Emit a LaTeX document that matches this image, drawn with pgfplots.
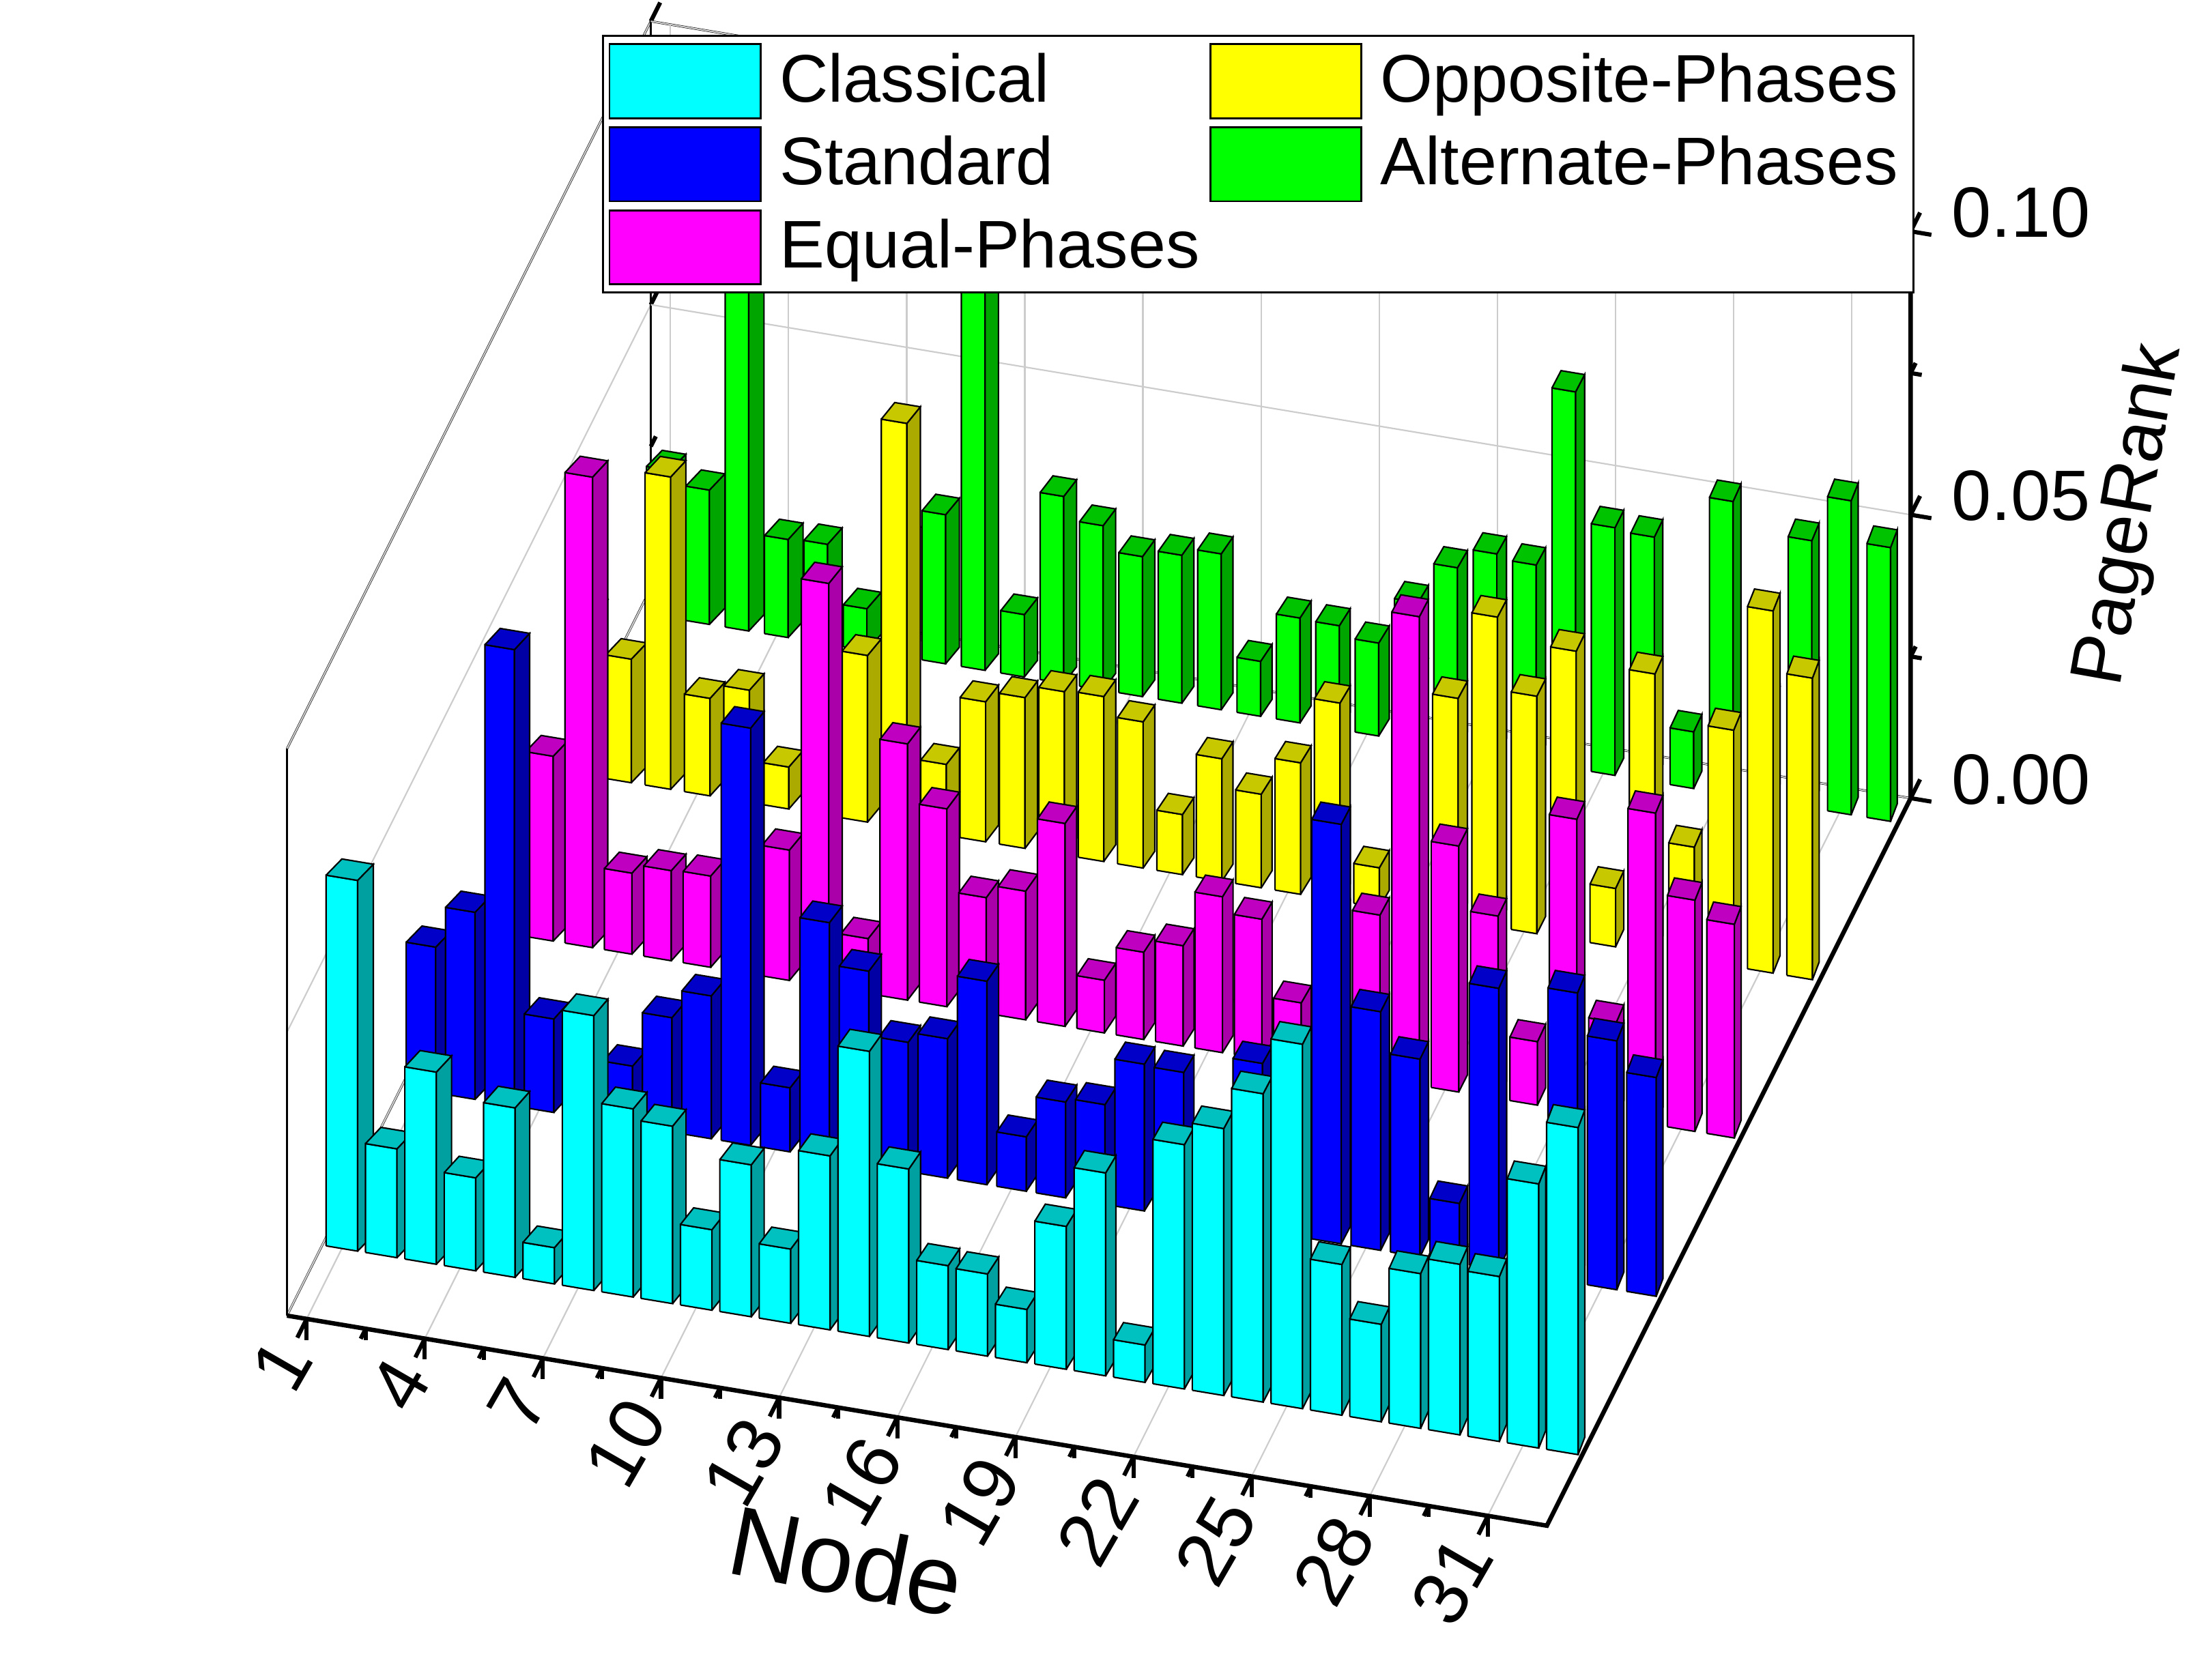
\documentclass[border=0pt]{standalone}
\usepackage{pgfplots}
\pgfplotsset{compat=1.18}
\usepackage{pgfplotstable}
\usepackage{fontspec}
\setmainfont{Liberation Sans}

\definecolor{F1}{RGB}{0,255,255}
\definecolor{S1}{RGB}{0,160,160}
\definecolor{T1}{RGB}{0,192,192}
\definecolor{F2}{RGB}{0,0,255}
\definecolor{S2}{RGB}{0,0,165}
\definecolor{T2}{RGB}{0,0,200}
\definecolor{F3}{RGB}{255,0,255}
\definecolor{S3}{RGB}{170,0,170}
\definecolor{T3}{RGB}{192,0,192}
\definecolor{F4}{RGB}{255,255,0}
\definecolor{S4}{RGB}{170,170,0}
\definecolor{T4}{RGB}{200,200,0}
\definecolor{F5}{RGB}{0,255,0}
\definecolor{S5}{RGB}{0,165,0}
\definecolor{T5}{RGB}{0,195,0}

% c1 Classical, c2 Standard, c3 Equal-Phases, c4 Opposite-Phases, c5 Alternate-Phases
\pgfplotstableread{
n  c1     c2     c3     c4     c5
1  0.0654 0.0257 0.0233 0.0283 0.0260
2  0.0192 0.0330 0.0326 0.0218 0.0237
3  0.0339 0.0805 0.0830 0.0551 0.0655
4  0.0164 0.0165 0.0143 0.0172 0.0173
5  0.0299 0.0179 0.0159 0.0198 0.0176
6  0.0064 0.0105 0.0161 0.0074 0.0074
7  0.0485 0.0202 0.0182 0.0212 0.0200
8  0.0332 0.0252 0.0230 0.0294 0.0263
9  0.0313 0.0736 0.0712 0.0715 0.0716
10 0.0142 0.0113 0.0097 0.0125 0.0110
11 0.0268 0.0416 0.0452 0.0247 0.0330
12 0.0131 0.0342 0.0349 0.0266 0.0290
13 0.0307 0.0228 0.0204 0.0288 0.0247
14 0.0503 0.0246 0.0227 0.0291 0.0261
15 0.0307 0.0359 0.0358 0.0258 0.0275
16 0.0148 0.0096 0.0093 0.0106 0.0097
17 0.0145 0.0169 0.0154 0.0216 0.0185
18 0.0094 0.0176 0.0177 0.0165 0.0183
19 0.0252 0.0259 0.0275 0.0232 0.0164
20 0.0358 0.0256 0.0247 0.0349 0.0247
21 0.0066 0.0118 0.0111 0.0070 0.0320
22 0.0431 0.0295 0.0273 0.0420 0.0356
23 0.0471 0.0296 0.0289 0.0392 0.0348
24 0.0544 0.0740 0.0827 0.0547 0.0665
25 0.0643 0.0421 0.0434 0.0419 0.0437
26 0.0266 0.0349 0.0322 0.0510 0.0432
27 0.0172 0.0106 0.0112 0.0103 0.0100
28 0.0273 0.0497 0.0516 0.0493 0.0518
29 0.0301 0.0152 0.0169 0.0199 0.0172
30 0.0291 0.0512 0.0550 0.0417 0.0472
31 0.0466 0.0439 0.0408 0.0639 0.0554
32 0.0577 0.0386 0.0377 0.0532 0.0483
}\pr

\pgfplotsset{barface/.style={draw=black, line width=0.3pt, forget plot}}

\begin{document}
\begin{tikzpicture}
\begin{axis}[
  x={(0.28125cm,-0.0469cm)}, y={(0.565cm,1.13cm)}, z={(0cm,40.5cm)},
  xmin=0.5, xmax=32.5, ymin=0.5, ymax=5.1, zmin=0, zmax=0.1,
  clip=false,
  xtick={1,4,...,31}, minor x tick num=1,
  ytick=\empty,
  ztick={0,0.05,0.1}, minor z tick num=1,
  scaled z ticks=false,
  xtick pos=left, ztick pos=right,
  zticklabel pos=right,
  xmajorgrids, zmajorgrids,
  grid style={gray!40, line width=0.3pt},
  tick align=outside,
  major tick length=0.15cm, minor tick length=0.08cm,
  tick style={black, line width=0.85pt},
  axis line style={line width=0.45pt},
  /pgf/number format/assume math mode=true,
  tick label style={font=\fontsize{15.5}{18}\selectfont},
  xticklabel style={rotate=60, anchor=east, inner sep=0.5pt, xshift=-0.05cm},
  zticklabel style={font=\fontsize{14.5}{17}\selectfont, anchor=west, xshift=0.10cm, /pgf/number format/fixed, /pgf/number format/fixed zerofill, /pgf/number format/precision=2},
  xlabel={Node}, zlabel={PageRank},
  xlabel style={font=\fontsize{20}{23}\selectfont, inner sep=1pt, at={(rel axis cs:0.47,0,0)}, anchor=center, rotate=-11, xshift=-0.03cm, yshift=-1.07cm},
  zlabel style={font=\fontsize{15}{18}\selectfont, at={(rel axis cs:1,1,0.5)}, anchor=center, rotate=-10, xshift=0.27cm, yshift=-1.55cm},
  legend columns=2, legend cell align=left,
  legend image code/.code={\draw[#1,draw=black,line width=0.4pt] (0cm,-0.265cm) rectangle (1.08cm,0.265cm);},
  legend style={at={(axis cs:0.5,0.5,0)}, anchor=north west, xshift=2.25cm, yshift=9.15cm,
    draw=black, line width=0.4pt, font=\fontsize{13.7}{16}\selectfont,
    inner xsep=0.04cm, inner ysep=0.05cm, row sep=0.05cm,
    nodes={inner xsep=0.07cm},
    /tikz/every odd column/.style={column sep=0.06cm}},
]
\addlegendimage{fill=F1}\addlegendentry{Classical}
\addlegendimage{fill=F4}\addlegendentry{Opposite-Phases}
\addlegendimage{fill=F2}\addlegendentry{Standard}
\addlegendimage{fill=F5}\addlegendentry{Alternate-Phases}
\addlegendimage{fill=F3}\addlegendentry{Equal-Phases}

\pgfplotsforeachungrouped \s in {5,4,3,2,1}{%
  \pgfplotsforeachungrouped \r in {0,...,31}{%
    \pgfplotstablegetelem{\r}{c\s}\of\pr
    \let\bv=\pgfplotsretval
    \pgfmathsetmacro\hw{0.40-0.025*(\s-1)}%
    \pgfmathsetmacro\dx{0.18-0.23*\r/31}%
    \pgfmathsetmacro\xa{\r+1-\hw}%
    \pgfmathsetmacro\xb{\r+1+\hw}%
    \pgfmathsetmacro\xc{\xa+\dx}%
    \pgfmathsetmacro\xd{\xb+\dx}%
    \pgfmathsetmacro\ya{\s-0.055}%
    \pgfmathsetmacro\yb{\s+0.055}%
    \edef\cmd{%
      \noexpand\addplot3[barface, fill=F\s] coordinates {(\xa,\ya,0) (\xb,\ya,0) (\xb,\ya,\bv) (\xa,\ya,\bv) (\xa,\ya,0)};%
      \noexpand\addplot3[barface, fill=S\s] coordinates {(\xb,\ya,0) (\xd,\yb,0) (\xd,\yb,\bv) (\xb,\ya,\bv) (\xb,\ya,0)};%
      \noexpand\addplot3[barface, fill=T\s] coordinates {(\xa,\ya,\bv) (\xb,\ya,\bv) (\xd,\yb,\bv) (\xc,\yb,\bv) (\xa,\ya,\bv)};%
    }%
    \cmd
  }%
}
% thick axis lines (front x axis, right floor edge, z axis)
\draw[line width=0.9pt, line join=miter] (rel axis cs:0,0,0) -- (rel axis cs:1,0,0) -- (rel axis cs:1,1,0) -- (rel axis cs:1,1,1);
\coordinate (FL) at (axis cs:0.5,0.5,0);
\end{axis}
\pgfresetboundingbox
\path[use as bounding box] (FL) ++(-2.05,-2.60) rectangle ++(15.68,12);
\end{tikzpicture}
\end{document}
